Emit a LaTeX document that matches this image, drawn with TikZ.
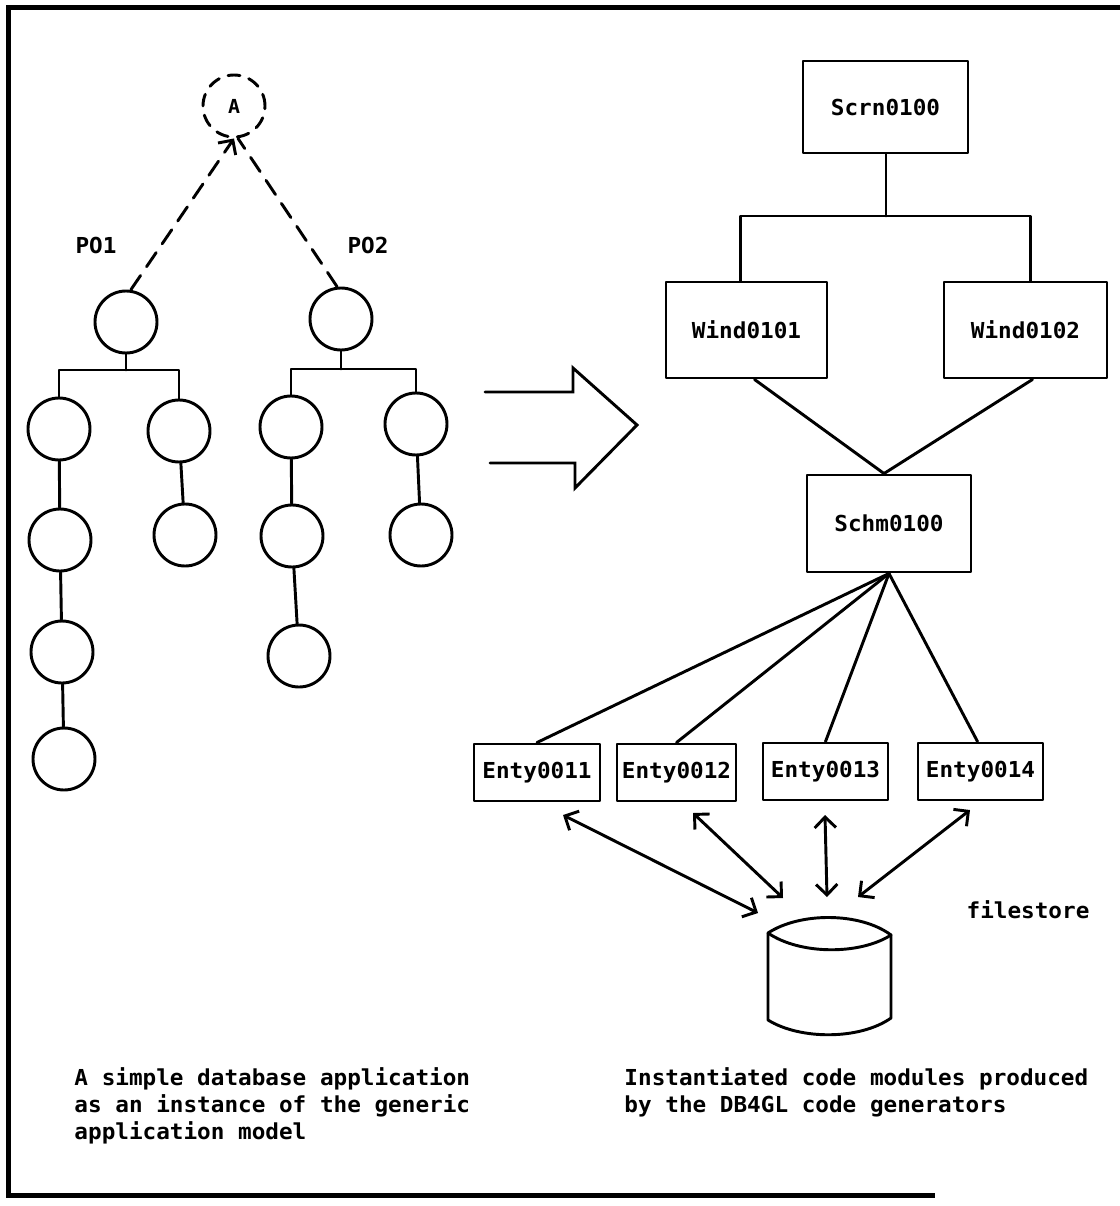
\documentclass[tikz,border=0pt]{standalone}
\usepackage{fontspec}
\newfontfamily\mono[FakeStretch=1.03]{DejaVu Sans Mono}
\usetikzlibrary{arrows.meta,calc}
\begin{document}
\begin{tikzpicture}[x=0.75pt,y=-0.75pt,
  line width=2.2pt, line join=round, line cap=round,
  every node/.style={font=\mono\bfseries\fontsize{16.5}{20.25}\selectfont},
  tnode/.style={circle,draw,minimum size=46.5pt,inner sep=0pt},
  mbox/.style={draw,rectangle,inner sep=0pt},
  dbl/.style={{Straight Barb[length=8pt,width=16pt]}-{Straight Barb[length=8pt,width=16pt]}},
  dashline/.style={dash pattern=on 12.75pt off 8pt},
  caption/.style={anchor=north west,inner sep=0pt,align=left}]

\useasboundingbox (0,0) rectangle (1120,1206);

% frame (open on the right)
\draw[line width=3.75pt,line cap=butt,line join=miter] (1120,8) -- (8,8) -- (8,1195) -- (935,1195);

% ---------- generic application model ----------
\node[circle,draw,dash pattern=on 9pt off 7pt,minimum size=46.5pt,inner sep=0pt,
      font=\mono\bfseries\fontsize{14.5}{17}\selectfont] (A) at (234,106) {A};

\node at (96,245) (lblPO1) {PO1};
\node at (368,245) (lblPO2) {PO2};

% PO1 tree
\node[tnode] (r1)  at (126,322) {};
\node[tnode] (c11) at (59,429) {};
\node[tnode] (c12) at (60,540) {};
\node[tnode] (c13) at (62,652) {};
\node[tnode] (c14) at (64,759) {};
\node[tnode] (c21) at (179,431) {};
\node[tnode] (c22) at (185,535) {};
\coordinate (b1) at (126,370);

% PO2 tree
\node[tnode] (r2)  at (341,319) {};
\node[tnode] (d11) at (291,427) {};
\node[tnode] (d12) at (292,536) {};
\node[tnode] (d13) at (299,656) {};
\node[tnode] (d21) at (416,424) {};
\node[tnode] (d22) at (421,535) {};
\coordinate (b2) at (341,369);

% dashed links to A
\draw[dashline,-{Straight Barb[length=8pt,width=16pt]}] ($(r1.north)+(5,0)$) -- (A.south);
\draw[dashline] ($(r2.north)+(-4,0)$) -- ($(A.south)+(4,0)$);

% tree connectors
\draw (r1) -- (b1);
\draw (c11.north) |- (b1) -| (c21.north);
\draw (c11) -- (c12);
\draw (c12) -- (c13);
\draw (c13) -- (c14);
\draw (c21) -- (c22);

\draw (r2) -- (b2);
\draw (d11.north) |- (b2) -| (d21.north);
\draw (d11) -- (d12);
\draw (d12) -- (d13);
\draw (d21) -- (d22);

% big hollow arrow
\draw[line join=miter] (485,392) -- (573,392) -- (573,368) -- (637,425) -- (575,488) -- (575,463) -- (490,463);

% ---------- generated code modules ----------
\node[mbox,minimum width=123.75pt,minimum height=69pt] (scrn) at (885.5,107) {Scrn0100};
\node[mbox,minimum width=120.75pt,minimum height=72pt] (w1) at (746.5,330) {Wind0101};
\node[mbox,minimum width=122.25pt,minimum height=72pt] (w2) at (1025.5,330) {Wind0102};
\node[mbox,minimum width=123pt,minimum height=72.75pt] (schm) at (889,523.5) {Schm0100};

\node[mbox,minimum width=94.5pt,minimum height=42.75pt] (e1) at (537,772.5) {Enty0011};
\node[mbox,minimum width=89.25pt,minimum height=42.75pt] (e2) at (676.5,772.5) {Enty0012};
\node[mbox,minimum width=93.75pt,minimum height=42.75pt] (e3) at (825.5,771.5) {Enty0013};
\node[mbox,minimum width=93.75pt,minimum height=42.75pt] (e4) at (980.5,771.5) {Enty0014};

\coordinate (bw) at (886,216);
\draw (scrn.south -| bw) -- (bw);
\draw ($(w1.north)+(-6,0)$) |- (bw) -| ($(w2.north)+(5,0)$);

\draw ($(w1.south)+(8,0)$) -- ($(schm.north)+(-5,0)$);
\draw ($(w2.south)+(7,0)$) -- ($(schm.north)+(-5,0)$);

\draw (e1.north) -- (schm.south);
\draw (e2.north) -- (schm.south);
\draw (e3.north) -- (schm.south);
\draw ($(e4.north)+(-3,0)$) -- (schm.south);

% filestore
\coordinate (store) at (830,975);
\draw (768,933) .. controls (800,912) and (860,912) .. (891,935);
\draw (768,933) .. controls (800,955) and (860,955) .. (891,935);
\draw (768,933) -- (768,1020) .. controls (800,1040) and (860,1040) .. (891,1018) -- (891,935);
\node at (1028,910) (fs) {filestore};

% data flow between entities and filestore
\coordinate (p1) at (563,815); \coordinate (q1) at (758,913);
\coordinate (p2) at (693,813); \coordinate (q2) at (783,898);
\coordinate (p3) at (825,815); \coordinate (q3) at (827,897);
\coordinate (p4) at (970,810); \coordinate (q4) at (858,897);
\draw[dbl] (p1) -- (q1);
\draw[dbl] (p2) -- (q2);
\draw[dbl] (p3) -- (q3);
\draw[dbl] (p4) -- (q4);

% captions
\node[caption] (capL) at (73,1066) {A simple database application\\as an instance of the generic\\application model};
\node[caption] (capR) at (623,1066) {Instantiated code modules produced\\by the DB4GL code generators};

\end{tikzpicture}
\end{document}
